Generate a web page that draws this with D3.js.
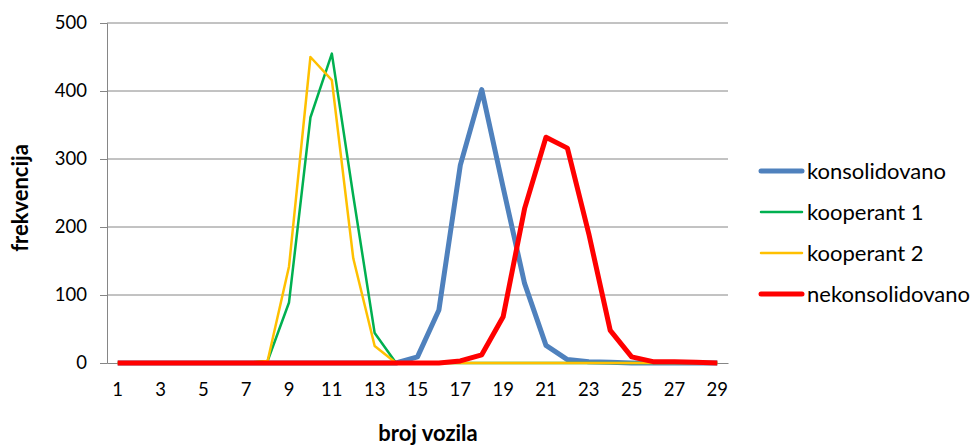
<!DOCTYPE html>
<html><head><meta charset="utf-8">
<script src="https://cdn.jsdelivr.net/npm/d3@7"></script>
<style>body{margin:0;background:#fff}text{font-family:Lato,sans-serif;fill:#000}</style>
</head><body><svg id="c" width="971" height="448"></svg>
<script>
const categories = d3.range(1, 30);
const konsolidovano   = [0,0,0,0,0,0,0,0,0,0,0,0,0,0,9,78,291,402,258,117,26,5,2,1,0,0,0,0,0];
const kooperant1      = [0,0,0,0,0,0,0,3,89,361,455,246,44,0,0,0,0,0,0,0,0,0,0,0,0,0,0,0,0];
const kooperant2      = [0,0,0,0,0,0,0,3,142,450,416,154,25,0,0,0,0,0,0,0,0,0,0,0,0,0,0,0,0];
const nekonsolidovano = [0,0,0,0,0,0,0,0,0,0,0,0,0,0,0,0,3,12,68,227,332,316,190,48,9,2,2,1,0];
const yTicks = [0,100,200,300,400,500];
const xTickLabels = categories.filter(d => d % 2 === 1);
const seriesNames = ["konsolidovano","kooperant 1","kooperant 2","nekonsolidovano"];
const seriesData = [konsolidovano, kooperant1, kooperant2, nekonsolidovano];
const colors = ["#4F81BD","#00B050","#FFC000","#FF0000"];
const widths = [5,2.5,2.5,5];

const svg = d3.select("#c");
const L = 107, R = 728, T = 23, B = 363;
const x = d3.scaleBand().domain(categories).range([L, R]);
const y = d3.scaleLinear().domain([0, 500]).range([B, T]);
const FONT = "Lato";

svg.append("g").selectAll("line").data(yTicks.filter(d=>d>0)).join("line")
  .attr("x1", L).attr("x2", R).attr("y1", d=>y(d)).attr("y2", d=>y(d))
  .attr("stroke", "#868686").attr("stroke-width", 1);

const ya = svg.append("g").attr("transform", `translate(${L},0)`)
  .call(d3.axisLeft(y).tickValues(yTicks).tickSize(7).tickPadding(13));
ya.select(".domain").attr("stroke", "#868686");
ya.selectAll(".tick line").attr("stroke", "#868686");
ya.selectAll("text").attr("font-size", 18.5).attr("font-family", FONT).attr("fill", "#000");

const xa = svg.append("g").attr("transform", `translate(0,${B})`)
  .call(d3.axisBottom(x).tickValues(xTickLabels).tickSize(0).tickPadding(20));
xa.select(".domain").attr("stroke", "#868686");
xa.selectAll("text").attr("font-size", 18.5).attr("font-family", FONT).attr("fill", "#000");

const line = d3.line().x((d,i)=>x(categories[i]) + x.bandwidth()/2).y(d=>y(d));
seriesData.forEach((s,k)=>{
  svg.append("path").datum(s).attr("d", line).attr("fill","none")
    .attr("stroke", colors[k]).attr("stroke-width", widths[k]).attr("stroke-linejoin","round");
});

svg.append("text").attr("x", 428).attr("y", 441).attr("text-anchor","middle")
  .attr("font-size", 22).attr("font-weight","bold").text("broj vozila");
svg.append("text").attr("transform","translate(28,198) rotate(-90)").attr("text-anchor","middle")
  .attr("font-size", 22).attr("font-weight","bold").text("frekvencija");

const lg = svg.append("g");
const ly = [171, 212, 253, 294];
seriesNames.forEach((n,k)=>{
  lg.append("line").attr("x1", 761).attr("x2", 802).attr("y1", ly[k]).attr("y2", ly[k])
    .attr("stroke", colors[k]).attr("stroke-width", widths[k]).attr("stroke-linecap","round");
  lg.append("text").attr("x", 807).attr("y", ly[k]).attr("dy","0.35em")
    .attr("font-size", 22).text(n);
});
</script></body></html>
